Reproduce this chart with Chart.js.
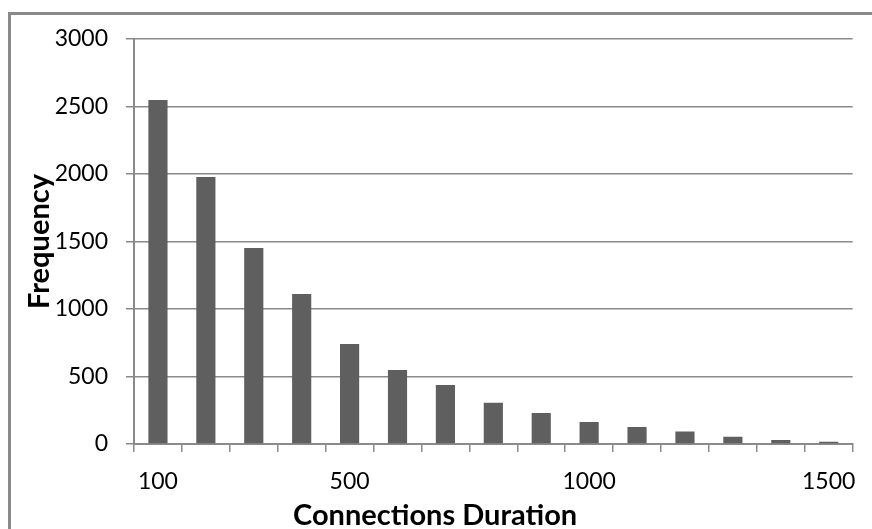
<!DOCTYPE html>
<html>
<head>
<meta charset="utf-8">
<script src="https://cdn.jsdelivr.net/npm/chart.js@4.4.1/dist/chart.umd.min.js"></script>
<style>
  html, body { margin: 0; padding: 0; background: #fff; }
  #wrap { position: relative; width: 872px; height: 529px; overflow: hidden; }
  #frame { position: absolute; left: 8px; top: 12px; width: 900px; height: 560px;
           border-top: 3px solid #8a8a8a; border-left: 3px solid #8a8a8a; }
  #myChart { position: absolute; left: 0; top: 0; }
</style>
</head>
<body>
<div id="wrap">
  <div id="frame"></div>
  <canvas id="myChart" width="872" height="529"></canvas>
</div>
<script>
// connection duration buckets
const durations = ['100', '200', '300', '400', '500', '600', '700', '800',
                   '900', '1000', '1100', '1200', '1300', '1400', '1500'];
const frequency = [2548, 1978, 1452, 1111, 741, 548, 437, 306,
                   230, 163, 126, 92, 54, 30, 17];
const shownLabels = ['100', '500', '1000', '1500'];
const yTicks = [0, 500, 1000, 1500, 2000, 2500, 3000];
const xTitle = 'Connections Duration';

const gridColor = '#8a8a8a';
const font = "Lato, 'Open Sans', sans-serif";

// the x title sits left of the plot centre in the original, so draw it by hand
const xTitlePlugin = {
    id: 'xTitle',
    afterDraw(chart) {
        const c = chart.ctx;
        const area = chart.chartArea;
        c.save();
        c.font = `bold 29px ${font}`;
        c.fillStyle = '#000';
        c.textAlign = 'center';
        c.textBaseline = 'alphabetic';
        c.fillText(xTitle, area.left + (area.right - area.left) * 0.419, chart.height - 4);
        c.restore();
    }
};

const ctx = document.getElementById('myChart').getContext('2d');
new Chart(ctx, {
    type: 'bar',
    data: {
        labels: durations,
        datasets: [{
            label: 'Frequency',
            data: frequency,
            backgroundColor: '#5f5f5f',
            borderWidth: 0,
            barPercentage: 0.4,
            categoryPercentage: 1
        }]
    },
    options: {
        responsive: false,
        animation: false,
        layout: { padding: { left: 22, top: 39, right: 19, bottom: 0 } },
        plugins: {
            legend: { display: false },
            tooltip: { enabled: false }
        },
        scales: {
            x: {
                offset: true,
                afterFit: (scale) => { scale.height = 85; },
                grid: {
                    offset: true,
                    drawOnChartArea: false,
                    drawTicks: true,
                    tickLength: 8,
                    color: gridColor,
                    lineWidth: 1.5
                },
                border: { color: gridColor, width: 2 },
                ticks: {
                    autoSkip: false,
                    maxRotation: 0,
                    padding: 16,
                    color: '#000',
                    font: { family: font, size: 23 },
                    callback: function (value) {
                        const lbl = this.getLabelForValue(value);
                        return shownLabels.includes(lbl) ? lbl : '';
                    }
                }
            },
            y: {
                min: 0,
                max: 3000,
                afterFit: (scale) => { scale.width = 112; },
                afterBuildTicks: (scale) => {
                    scale.ticks = yTicks.map(v => ({ value: v }));
                },
                grid: {
                    color: gridColor,
                    lineWidth: 1.5,
                    tickLength: 8
                },
                border: { color: gridColor, width: 2 },
                ticks: {
                    padding: 18,
                    color: '#000',
                    font: { family: font, size: 23 },
                    callback: (value) => String(value)
                },
                title: {
                    display: true,
                    text: 'Frequency',
                    color: '#000',
                    font: { family: font, size: 29, weight: 'bold' },
                    padding: 0
                }
            }
        }
    },
    plugins: [xTitlePlugin]
});
</script>
</body>
</html>
